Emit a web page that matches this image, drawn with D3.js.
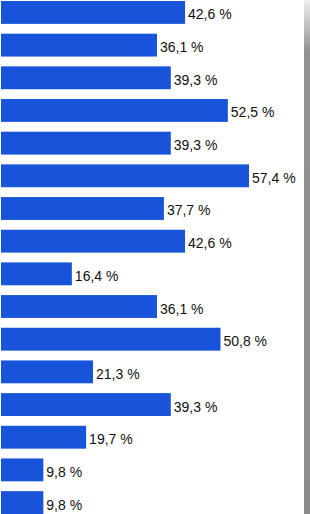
<!DOCTYPE html>
<html lang="en">
<head>
    <meta charset="UTF-8">
    <script src="https://d3js.org/d3.v7.min.js"></script>
    <style>
        body { margin: 0; background: #fff; }
    </style>
</head>
<body>
    <div id="app"></div>
    <script>
        const svg_width = 310;
        const svg_height = 514;

        // one row per bar, top to bottom
        var rows = d3.range(16)
        var values = [42.6, 36.1, 39.3, 52.5, 39.3, 57.4, 37.7, 42.6, 16.4, 36.1, 50.8, 21.3, 39.3, 19.7, 9.8, 9.8]
        var labels = ['42,6 %', '36,1 %', '39,3 %', '52,5 %', '39,3 %', '57,4 %', '37,7 %', '42,6 %',
            '16,4 %', '36,1 %', '50,8 %', '21,3 %', '39,3 %', '19,7 %', '9,8 %', '9,8 %']

        var svg = d3.select('#app')
            .append('svg')
            .attr('width', svg_width)
            .attr('height', svg_height)

        // grey shadow strip on the right
        var defs = svg.append('defs')
        var grad = defs.append('linearGradient')
            .attr('id', 'shade')
            .attr('x1', 0).attr('y1', 0).attr('x2', 0).attr('y2', 1)
        grad.append('stop').attr('offset', '0%').attr('stop-color', '#eeeeee')
        grad.append('stop').attr('offset', '10%').attr('stop-color', '#929292')
        grad.append('stop').attr('offset', '100%').attr('stop-color', '#8c8c8c')
        svg.append('rect')
            .attr('x', 304)
            .attr('y', 0)
            .attr('width', 6)
            .attr('height', svg_height)
            .attr('fill', 'url(#shade)')

        var x_scale = d3.scaleLinear()
            .domain([0, 57.4])
            .range([1, 249])
        var y_scale = d3.scaleBand()
            .domain(rows)
            .range([1, 514])
            .paddingInner(0.3)
            .paddingOuter(0)

        svg.selectAll('rect.bar')
            .data(values)
            .enter()
            .append('rect')
            .attr('class', 'bar')
            .attr('x', x_scale(0))
            .attr('y', function (d, i) {
                return y_scale(i)
            })
            .attr('width', function (d) {
                return x_scale(d) - x_scale(0)
            })
            .attr('height', y_scale.bandwidth())
            .attr('fill', '#1754d9')

        svg.selectAll('text.lbl')
            .data(values)
            .enter()
            .append('text')
            .attr('class', 'lbl')
            .text(function (d, i) {
                return labels[i]
            })
            .attr('x', function (d) {
                return x_scale(d) + 3
            })
            .attr('y', function (d, i) {
                return y_scale(i) + y_scale.bandwidth() / 2 + 7
            })
            .attr('fill', '#111')
            .style('font-family', 'Liberation Sans, Arial, sans-serif')
            .style('font-size', '14px')
    </script>
</body>
</html>
